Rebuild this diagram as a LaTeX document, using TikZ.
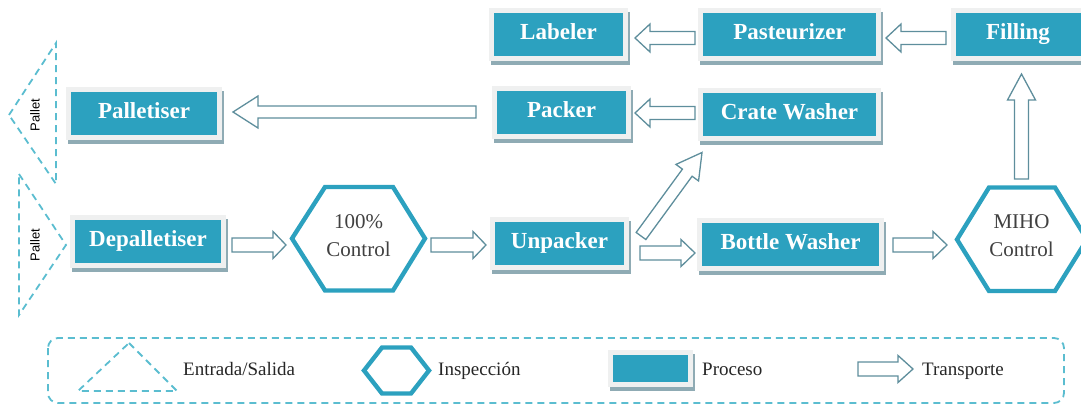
\documentclass[tikz,border=0pt]{standalone}
\usepackage{fontspec}
\setmainfont{Liberation Serif}
\setsansfont{Liberation Sans}
\usetikzlibrary{calc}
\definecolor{procblue}{HTML}{2CA1BF}
\definecolor{dashblue}{HTML}{5BBDD0}
\definecolor{ringgray}{HTML}{EFF0F0}
\definecolor{shadowgray}{HTML}{8FABB4}
\definecolor{arrowline}{HTML}{5E8E9C}
\tikzset{
  procbox/.style={rectangle,minimum width=#1,minimum height=43,inner sep=0,outer sep=0,fill=procblue,
    text=white,text height=15,text depth=5,font=\fontsize{23}{23}\selectfont\bfseries,
    preaction={draw=shadowgray,fill=shadowgray,line width=10,transform canvas={shift={(2,4)}}},
    preaction={draw=ringgray,line width=10}},
  hexline/.style={draw=procblue,line width=4.4,line join=miter},
  dashline/.style={draw=dashblue,line width=1.8,dash pattern=on 7 off 5},
  transport/.style={draw=arrowline,line width=1.3,fill=white,line join=miter},
  inspect/.style={text=black!75,font=\fontsize{21}{28}\selectfont,align=center,inner sep=0},
  legendtext/.style={text=black!85,font=\fontsize{19}{19}\selectfont,anchor=base west,inner sep=0},
  pallettext/.style={rotate=90,font=\sffamily\fontsize{13}{13}\selectfont,inner sep=0}
}
% name, start, end, half shaft, head length, half head
\newcommand{\blockarrow}[6]{
  \coordinate (#1s) at #2;
  \coordinate (#1t) at #3;
  \coordinate (#1b) at ($(#1t)!#5pt!(#1s)$);
  \draw[transport] ($(#1s)!#4pt!90:(#1t)$) -- ($(#1b)!#4pt!90:(#1t)$) -- ($(#1b)!#6pt!90:(#1t)$) -- (#1t)
    -- ($(#1b)!#6pt!-90:(#1t)$) -- ($(#1b)!#4pt!-90:(#1t)$) -- ($(#1s)!#4pt!-90:(#1t)$) -- cycle;
}
\begin{document}
\begin{tikzpicture}[x=1pt,y=-1pt]
\clip (0,0) rectangle (1081,404);
% process boxes
\node[procbox=129] (labeler) at (558.5,35) {Labeler};
\node[procbox=173] (pasteurizer) at (789.5,35) {Pasteurizer};
\node[procbox=131] (filling) at (1021.5,35) {\hspace*{-7pt}Filling};
\node[procbox=129] (packer) at (561.5,112) {Packer};
\node[procbox=173] (cratewasher) at (789.5,114) {Crate Washer};
\node[procbox=146] (palletiser) at (144,113.5) {Palletiser};
\node[procbox=146] (depalletiser) at (148,241.5) {Depalletiser};
\node[procbox=129] (unpacker) at (559.5,243.5) {Unpacker};
\node[procbox=177] (bottlewasher) at (790.5,244) {Bottle Washer};
% hexagons
\node[inspect] (control) at (358.5,236) {100\%\\Control};
\draw[hexline] (292,238.5) -- (325,187) -- (393,187) -- (425,238.5) -- (393,290.5) -- (325,290.5) -- cycle;
\node[inspect] (miho) at (1021.5,236) {MIHO\\Control};
\draw[hexline] (957,239.5) -- (989,187.5) -- (1055,187.5) -- (1087,239.5) -- (1055,291) -- (989,291) -- cycle;
% pallets
\draw[dashline] (9,115) -- (56,43) -- (56,184) -- cycle;
\node[pallettext] (palletout) at (35,115) {Pallet};
\draw[dashline] (19,174) -- (66,245) -- (19,315) -- cycle;
\node[pallettext] (palletin) at (35,245) {Pallet};
% transport
\blockarrow{a}{($(depalletiser.east)+(11,3.5)$)}{(286,245)}{7}{13}{13.5}
\blockarrow{b}{(431,245)}{(486,245)}{7}{13}{13.5}
\blockarrow{c}{($(unpacker.east)+(16,9.5)$)}{($(bottlewasher.west)+(-7,9)$)}{7}{14}{13.5}
\blockarrow{d}{($(bottlewasher.east)+(14,1)$)}{(947,245)}{7}{14}{13.5}
\blockarrow{e}{($(unpacker.east)+(17,-7.5)$)}{($(cratewasher.south west)+(-1,17)$)}{6}{25}{14}
\blockarrow{f}{(1021.5,179)}{(1021.5,74)}{7}{26}{14}
\blockarrow{g}{($(filling.west)+(-10,3)$)}{($(pasteurizer.east)+(10,3)$)}{6.5}{15}{14}
\blockarrow{h}{($(pasteurizer.west)+(-8,3)$)}{($(labeler.east)+(12,3)$)}{6.5}{15}{14}
\blockarrow{i}{($(cratewasher.west)+(-8,-1)$)}{($(packer.east)+(9,1)$)}{6.5}{15}{14}
\blockarrow{j}{($(packer.west)+(-21,0)$)}{($(palletiser.east)+(16,-1.5)$)}{6}{25}{16}
% legend
\draw[dashline,rounded corners=10] (48,338) rectangle (1064,403);
\draw[dashline] (129,343) -- (177,391) -- (78,391) -- cycle;
\node[legendtext] (lentrada) at (183,375) {Entrada/Salida};
\draw[hexline] (364,370.5) -- (382,347.5) -- (411,347.5) -- (429,370.5) -- (411,393.5) -- (382,393.5) -- cycle;
\node[legendtext] (linspeccion) at (438,375) {Inspección};
\node[procbox=75,minimum height=27] (lproceso) at (650.5,368.5) {};
\node[legendtext] (lprocesot) at (702,375) {Proceso};
\blockarrow{k}{(858,369)}{(913,369)}{7}{15}{13.5}
\node[legendtext] (ltransporte) at (922,375) {Transporte};
\end{tikzpicture}
\end{document}
